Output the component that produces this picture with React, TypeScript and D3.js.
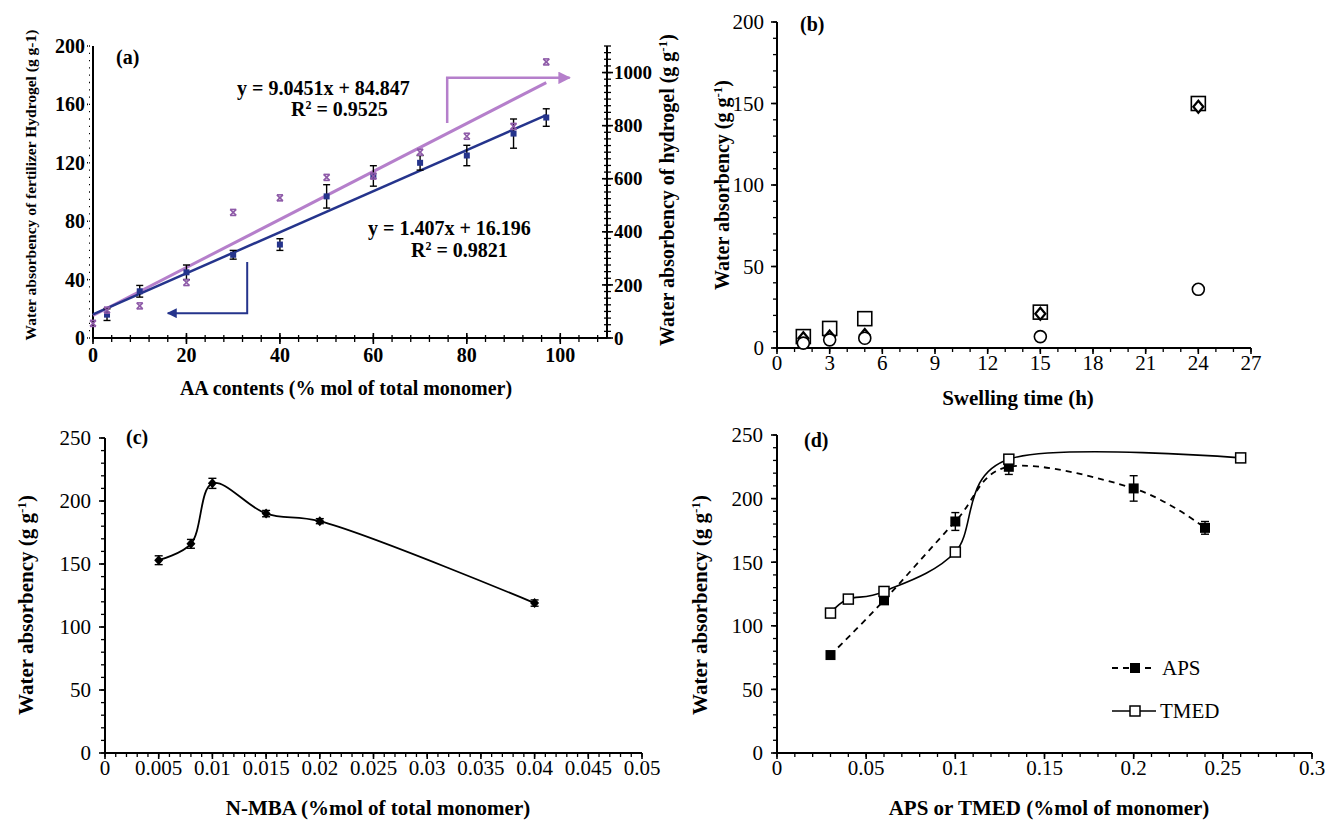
import React from "react";
import * as d3 from "d3";

// ---------- DATA ----------
// (a)
const aaFert = [3, 10, 20, 30, 40, 50, 60, 70, 80, 90, 97];
const fertVals = [16, 32, 45, 57, 64, 97, 111, 120, 125, 140, 151];
const fertErr = [4, 4, 5, 3, 4, 8, 7, 5, 7, 10, 6];
const aaHydro = [0, 3, 10, 20, 30, 40, 50, 60, 70, 80, 90, 97];
const hydroVals = [55, 105, 121, 209, 473, 528, 605, 610, 700, 760, 797, 1040];
const fitFert = { slope: 1.407, intercept: 16.196 };
const fitHydro = { slope: 9.0451, intercept: 84.847 };
const aXTicks = [0, 20, 40, 60, 80, 100];
const aYLTicks = [0, 40, 80, 120, 160, 200];
const aYRTicks = [0, 200, 400, 600, 800, 1000];
// (b)
const swellTime = [1.5, 3, 5, 15, 24];
const swellSquare = [7, 12, 18, 22, 150];
const swellDiamond = [6, 7, 8, 21, 148];
const swellCircle = [3, 5, 6, 7, 36];
const bXTicks = [0, 3, 6, 9, 12, 15, 18, 21, 24, 27];
const bYTicks = [0, 50, 100, 150, 200];
// (c)
const mba = [0.005, 0.008, 0.01, 0.015, 0.02, 0.04];
const mbaVals = [153, 166, 214, 190, 184, 119];
const mbaErr = [3.5, 3.5, 4, 2.5, 2, 2.5];
const cXTicks = [0, 0.005, 0.01, 0.015, 0.02, 0.025, 0.03, 0.035, 0.04, 0.045, 0.05];
const cYTicks = [0, 50, 100, 150, 200, 250];
// (d)
const apsX = [0.03, 0.06, 0.1, 0.13, 0.2, 0.24];
const apsVals = [77, 120, 182, 225, 208, 177];
const apsErr = [0, 3, 7, 6, 10, 5];
const tmedX = [0.03, 0.04, 0.06, 0.1, 0.13, 0.26];
const tmedVals = [110, 121, 127, 158, 231, 232];
const dXTicks = [0, 0.05, 0.1, 0.15, 0.2, 0.25, 0.3];
const dYTicks = [0, 50, 100, 150, 200, 250];

const FONT = "'Liberation Serif', 'Times New Roman', serif";
const BLUE = "#25348c";
const PURPLE = "#b57fcb";
const PURPLE_MK = "#8e5aa8";
const TICK = 21;
const LAB = 21;

type Scale = d3.ScaleLinear<number, number>;

function range(a: number, b: number, step: number) {
  const out: number[] = [];
  const n = Math.round((b - a) / step);
  for (let i = 0; i <= n; i++) out.push(+(a + i * step).toFixed(6));
  return out;
}

function fmt(v: number) {
  return String(+v.toFixed(4));
}

function YAxis({ y, x, ticks, minor, side, cross, bold, labelOffset, size = TICK }: {
  y: Scale; x: number; ticks: number[]; minor: number[]; side: "left" | "right"; cross?: boolean; bold?: boolean; labelOffset: number; size?: number;
}) {
  const dir = side === "left" ? -1 : 1;
  const [r0, r1] = y.range();
  return (
    <g>
      <line x1={x} x2={x} y1={r0} y2={r1} stroke="#000" strokeWidth={2} />
      {minor.map((t, i) => (
        <line key={"m" + i} x1={cross ? x - 3 : x} x2={x + dir * 4} y1={y(t)} y2={y(t)} stroke="#000" strokeWidth={1.3} />
      ))}
      {ticks.map((t, i) => (
        <g key={i}>
          <line x1={cross ? x - 5 : x} x2={x + dir * 6} y1={y(t)} y2={y(t)} stroke="#000" strokeWidth={1.6} />
          <text x={x + dir * labelOffset} y={y(t)} dy="0.35em" textAnchor={side === "left" ? "end" : "start"}
            fontFamily={FONT} fontSize={size} fontWeight={bold ? "bold" : "normal"}>{fmt(t)}</text>
        </g>
      ))}
    </g>
  );
}

function XAxis({ x, y, ticks, minor, cross, bold, labelY, size = TICK }: {
  x: Scale; y: number; ticks: number[]; minor: number[]; cross?: boolean; bold?: boolean; labelY: number; size?: number;
}) {
  const [r0, r1] = x.range();
  return (
    <g>
      <line x1={r0} x2={r1} y1={y} y2={y} stroke="#000" strokeWidth={2} />
      {minor.map((t, i) => (
        <line key={"m" + i} x1={x(t)} x2={x(t)} y1={cross ? y - 3 : y} y2={y + 4} stroke="#000" strokeWidth={1.3} />
      ))}
      {ticks.map((t, i) => (
        <g key={i}>
          <line x1={x(t)} x2={x(t)} y1={cross ? y - 5 : y} y2={y + 6} stroke="#000" strokeWidth={1.6} />
          <text x={x(t)} y={labelY} textAnchor="middle" fontFamily={FONT} fontSize={size}
            fontWeight={bold ? "bold" : "normal"}>{fmt(t)}</text>
        </g>
      ))}
    </g>
  );
}

function ErrBar({ cx, yTop, yBot, cap = 4, color = "#000" }: { cx: number; yTop: number; yBot: number; cap?: number; color?: string }) {
  return (
    <g stroke={color} strokeWidth={1.4}>
      <line x1={cx} x2={cx} y1={yTop} y2={yBot} />
      <line x1={cx - cap} x2={cx + cap} y1={yTop} y2={yTop} />
      <line x1={cx - cap} x2={cx + cap} y1={yBot} y2={yBot} />
    </g>
  );
}

function YLabel({ x, y, text, size = LAB }: { x: number; y: number; text: React.ReactNode; size?: number }) {
  return (
    <text transform={`translate(${x},${y}) rotate(-90)`} textAnchor="middle" fontFamily={FONT}
      fontSize={size} fontWeight="bold">{text}</text>
  );
}

const gUnit = (
  <>
    (g g<tspan dy="-7" fontSize="13">-1</tspan><tspan dy="7">)</tspan>
  </>
);

// ---------- PANEL A ----------
function PanelA() {
  const x = d3.scaleLinear().domain([0, 110]).range([93, 607]);
  const yL = d3.scaleLinear().domain([0, 200]).range([338, 46]);
  const yR = d3.scaleLinear().domain([0, 1100]).range([338, 46]);
  const fitX = [0, 97];
  const lineFert = d3.line<number>().x(d => x(d)).y(d => yL(fitFert.slope * d + fitFert.intercept));
  const lineHydro = d3.line<number>().x(d => x(d)).y(d => yR(fitHydro.slope * d + fitHydro.intercept));
  const star = (cx: number, cy: number, k: number) => (
    <g key={k} stroke={PURPLE_MK} strokeWidth={1.6}>
      <line x1={cx - 3} x2={cx + 3} y1={cy - 3} y2={cy + 3} />
      <line x1={cx - 3} x2={cx + 3} y1={cy + 3} y2={cy - 3} />
      <line x1={cx - 3} x2={cx + 3} y1={cy - 3} y2={cy - 3} />
      <line x1={cx - 3} x2={cx + 3} y1={cy + 3} y2={cy + 3} />
    </g>
  );
  const blueArrow = { xv: 33, yTop: 52, yBot: 17, xTip: 16 };
  const purpArrow = { xv: 75.8, yBot: 810, yTop: 980, xTip: 102 };
  return (
    <g>
      <defs>
        <marker id="arrB" viewBox="0 0 10 10" refX="9" refY="5" markerWidth="5" markerHeight="5" orient="auto-start-reverse">
          <path d="M0,0 L10,5 L0,10 z" fill={BLUE} />
        </marker>
        <marker id="arrP" viewBox="0 0 10 10" refX="9" refY="5" markerWidth="5" markerHeight="5" orient="auto-start-reverse">
          <path d="M0,0 L10,5 L0,10 z" fill={PURPLE} />
        </marker>
      </defs>
      <XAxis x={x} y={338} ticks={aXTicks} minor={range(0, 108, 4)} cross bold labelY={362} size={20} />
      <YAxis y={yL} x={93} ticks={aYLTicks} minor={range(0, 200, 5)} side="left" cross bold labelOffset={8} size={20} />
      <YAxis y={yR} x={607} ticks={aYRTicks} minor={range(0, 1100, 25)} side="right" cross bold labelOffset={7} size={19} />
      <path d={lineHydro(fitX) || ""} fill="none" stroke={PURPLE} strokeWidth={3} />
      <path d={lineFert(fitX) || ""} fill="none" stroke={BLUE} strokeWidth={2.5} />
      {aaFert.map((a, i) => (
        <ErrBar key={"e" + i} cx={x(a)} yTop={yL(fertVals[i] + fertErr[i])} yBot={yL(fertVals[i] - fertErr[i])} cap={3.5} />
      ))}
      {aaFert.map((a, i) => (
        <rect key={"r" + i} x={x(a) - 3} y={yL(fertVals[i]) - 3} width={6} height={6} fill={BLUE} />
      ))}
      {aaHydro.map((a, i) => star(x(a), yR(hydroVals[i]), i))}
      <path d={`M${x(blueArrow.xv)},${yL(blueArrow.yTop)} L${x(blueArrow.xv)},${yL(blueArrow.yBot)} L${x(blueArrow.xTip)},${yL(blueArrow.yBot)}`}
        fill="none" stroke={BLUE} strokeWidth={2} markerEnd="url(#arrB)" />
      <path d={`M${x(purpArrow.xv)},${yR(purpArrow.yBot)} L${x(purpArrow.xv)},${yR(purpArrow.yTop)} L${x(purpArrow.xTip)},${yR(purpArrow.yTop)}`}
        fill="none" stroke={PURPLE} strokeWidth={2.5} markerEnd="url(#arrP)" />
      <g fontFamily={FONT} fontWeight="bold" fontSize={20}>
        <text x={237} y={95}>y = 9.0451x + 84.847</text>
        <text x={291} y={116}>R<tspan dy="-7" fontSize="12">2</tspan><tspan dy="7"> = 0.9525</tspan></text>
        <text x={368} y={235}>y = 1.407x + 16.196</text>
        <text x={411} y={257}>R<tspan dy="-7" fontSize="12">2</tspan><tspan dy="7"> = 0.9821</tspan></text>
        <text x={116} y={64}>(a)</text>
      </g>
      <text x={346} y={395} textAnchor="middle" fontFamily={FONT} fontWeight="bold" fontSize={20}>AA contents (% mol of total monomer)</text>
      <YLabel x={36} y={185} text="Water absorbency of fertilizer Hydrogel (g g-1)" size={15.5} />
      <YLabel x={674} y={190} text={<>Water absorbency of hydrogel {gUnit}</>} size={20} />
    </g>
  );
}

// ---------- PANEL B ----------
function PanelB() {
  const x = d3.scaleLinear().domain([0, 27]).range([777, 1251]);
  const y = d3.scaleLinear().domain([0, 200]).range([348, 22]);
  return (
    <g>
      <XAxis x={x} y={348} ticks={bXTicks} minor={range(0, 27, 1)} labelY={370} />
      <YAxis y={y} x={777} ticks={bYTicks} minor={range(0, 200, 10)} side="left" labelOffset={13} />
      {swellTime.map((t, i) => (
        <rect key={"s" + i} x={x(t) - 7} y={y(swellSquare[i]) - 7} width={14} height={14} fill="none" stroke="#000" strokeWidth={1.6} />
      ))}
      {swellTime.map((t, i) => {
        const cx = x(t), cy = y(swellDiamond[i]);
        return <path key={"d" + i} d={`M${cx},${cy - 6} L${cx + 5},${cy} L${cx},${cy + 6} L${cx - 5},${cy} Z`} fill="#fff" stroke="#000" strokeWidth={2.2} />;
      })}
      {swellTime.map((t, i) => (
        <circle key={"c" + i} cx={x(t)} cy={y(swellCircle[i])} r={6} fill="#fff" stroke="#000" strokeWidth={1.6} />
      ))}
      <text x={800} y={31} fontFamily={FONT} fontWeight="bold" fontSize={20}>(b)</text>
      <text x={1018} y={405} textAnchor="middle" fontFamily={FONT} fontWeight="bold" fontSize={LAB}>Swelling time (h)</text>
      <YLabel x={729} y={185} text={<>Water absorbency {gUnit}</>} size={20} />
    </g>
  );
}

// ---------- PANEL C ----------
function PanelC() {
  const x = d3.scaleLinear().domain([0, 0.05]).range([105, 642]);
  const y = d3.scaleLinear().domain([0, 250]).range([753, 438]);
  const pts = mba.map((m, i) => [x(m), y(mbaVals[i])] as [number, number]);
  const line = d3.line().curve(d3.curveCatmullRom.alpha(0.5));
  return (
    <g>
      <XAxis x={x} y={753} ticks={cXTicks} minor={range(0, 0.05, 0.001)} labelY={775} />
      <YAxis y={y} x={105} ticks={cYTicks} minor={range(0, 250, 10)} side="left" labelOffset={14} />
      <path d={line(pts) || ""} fill="none" stroke="#000" strokeWidth={1.8} />
      {mba.map((m, i) => (
        <ErrBar key={"e" + i} cx={x(m)} yTop={y(mbaVals[i] + mbaErr[i])} yBot={y(mbaVals[i] - mbaErr[i])} cap={4} />
      ))}
      {pts.map(([cx, cy], i) => (
        <path key={i} d={`M${cx},${cy - 5} L${cx + 4.5},${cy} L${cx},${cy + 5} L${cx - 4.5},${cy} Z`} fill="#000" />
      ))}
      <text x={126} y={444} fontFamily={FONT} fontWeight="bold" fontSize={20}>(c)</text>
      <text x={378} y={815} textAnchor="middle" fontFamily={FONT} fontWeight="bold" fontSize={LAB}>N-MBA (%mol of total monomer)</text>
      <YLabel x={33} y={605} text={<>Water absorbency {gUnit}</>} />
    </g>
  );
}

// ---------- PANEL D ----------
function PanelD() {
  const x = d3.scaleLinear().domain([0, 0.3]).range([777, 1312]);
  const y = d3.scaleLinear().domain([0, 250]).range([753, 435]);
  const line = d3.line().curve(d3.curveCatmullRom.alpha(0));
  const aps = apsX.map((v, i) => [x(v), y(apsVals[i])] as [number, number]);
  const tmed = tmedX.map((v, i) => [x(v), y(tmedVals[i])] as [number, number]);
  return (
    <g>
      <XAxis x={x} y={753} ticks={dXTicks} minor={range(0, 0.3, 0.01)} labelY={775} />
      <YAxis y={y} x={777} ticks={dYTicks} minor={range(0, 250, 10)} side="left" labelOffset={14} />
      <path d={line(aps) || ""} fill="none" stroke="#000" strokeWidth={1.8} strokeDasharray="6,5" />
      <path d={line(tmed) || ""} fill="none" stroke="#000" strokeWidth={1.6} />
      {apsX.map((v, i) => apsErr[i] > 0 ? (
        <ErrBar key={"e" + i} cx={x(v)} yTop={y(apsVals[i] + apsErr[i])} yBot={y(apsVals[i] - apsErr[i])} cap={4} />
      ) : null)}
      {aps.map(([cx, cy], i) => (
        <rect key={"a" + i} x={cx - 5} y={cy - 5} width={10} height={10} fill="#000" />
      ))}
      {tmed.map(([cx, cy], i) => (
        <rect key={"t" + i} x={cx - 5} y={cy - 5} width={10} height={10} fill="#fff" stroke="#000" strokeWidth={1.5} />
      ))}
      <g>
        <line x1={1112} x2={1156} y1={668} y2={668} stroke="#000" strokeWidth={1.8} strokeDasharray="6,5" />
        <rect x={1130} y={663} width={10} height={10} fill="#000" />
        <text x={1162} y={675} fontFamily={FONT} fontSize={21}>APS</text>
        <line x1={1112} x2={1156} y1={711} y2={711} stroke="#000" strokeWidth={1.6} />
        <rect x={1130} y={706} width={10} height={10} fill="#fff" stroke="#000" strokeWidth={1.5} />
        <text x={1160} y={718} fontFamily={FONT} fontSize={21}>TMED</text>
      </g>
      <text x={804} y={447} fontFamily={FONT} fontWeight="bold" fontSize={20}>(d)</text>
      <text x={1049} y={815} textAnchor="middle" fontFamily={FONT} fontWeight="bold" fontSize={LAB}>APS or TMED (%mol of monomer)</text>
      <YLabel x={707} y={605} text={<>Water absorbency {gUnit}</>} />
    </g>
  );
}

export default function App() {
  return (
    <svg width={1325} height={823} style={{ position: "absolute", left: 0, top: 0, background: "#fff" }}>
      <rect width={1325} height={823} fill="#fff" />
      <PanelA />
      <PanelB />
      <PanelC />
      <PanelD />
    </svg>
  );
}
